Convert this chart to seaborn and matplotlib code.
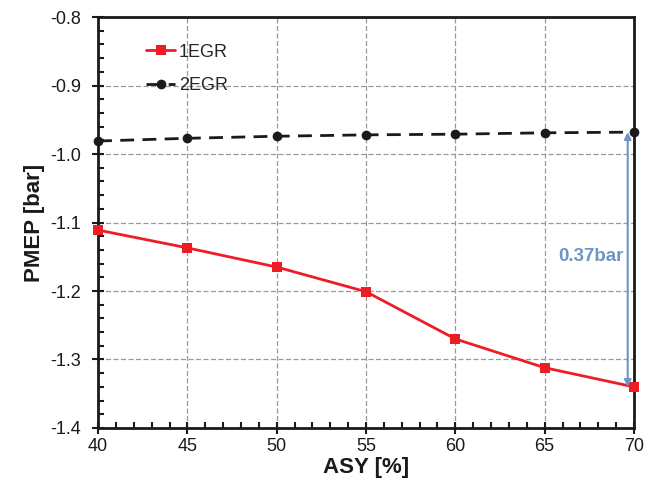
import matplotlib
matplotlib.use("Agg")
import matplotlib.pyplot as plt
import seaborn as sns
import pandas as pd
from matplotlib.ticker import MultipleLocator

asy = [40, 45, 50, 55, 60, 65, 70]
egr1 = [-1.111, -1.137, -1.165, -1.201, -1.270, -1.312, -1.340]
egr2 = [-0.981, -0.977, -0.974, -0.972, -0.971, -0.969, -0.968]
series_names = ["1EGR", "2EGR"]
diff_label = "0.37bar"

sns.set_style("white")
plt.rcParams['font.family'] = ['Liberation Sans', 'DejaVu Sans']

df = pd.DataFrame({
    "ASY": asy * 2,
    "PMEP": egr1 + egr2,
    "series": [series_names[0]] * len(asy) + [series_names[1]] * len(asy),
})

fig = plt.figure(figsize=(6.58, 4.88), dpi=100)
ax = fig.add_axes([0.149, 0.123, 0.8145, 0.842])

ax.grid(True, color="#999999", linestyle=(0, (4, 2)), linewidth=0.9)
ax.set_axisbelow(True)

sns.lineplot(data=df[df.series == series_names[0]], x="ASY", y="PMEP", ax=ax,
             color="#ee1c25", marker="s", markersize=7, markeredgewidth=0,
             linewidth=2, label=series_names[0], zorder=4, clip_on=False)
sns.lineplot(data=df[df.series == series_names[1]], x="ASY", y="PMEP", ax=ax,
             color="#1a1a1a", marker="o", markersize=7, markeredgewidth=0,
             linewidth=2, linestyle=(0, (5, 3)), label=series_names[1], zorder=4,
             clip_on=False)

ax.set_xlim(40, 70)
ax.set_ylim(-1.4, -0.8)
ax.xaxis.set_major_locator(MultipleLocator(5))
ax.xaxis.set_minor_locator(MultipleLocator(1))
ax.yaxis.set_major_locator(MultipleLocator(0.1))
ax.yaxis.set_minor_locator(MultipleLocator(0.02))
ax.yaxis.set_major_formatter(matplotlib.ticker.FuncFormatter(lambda v, p: f"{v:.1f}"))

for s in ax.spines.values():
    s.set_color("#1a1a1a")
    s.set_linewidth(2)

ax.tick_params(axis="both", which="both", bottom=True, left=True, top=False, right=False)
ax.tick_params(axis="both", which="major", direction="inout", length=8, width=1.5,
               labelsize=13, colors="#1a1a1a", labelcolor="#1a1a1a")
ax.tick_params(axis="both", which="minor", direction="in", length=4, width=1.5,
               colors="#1a1a1a")
ax.tick_params(axis="x", which="major", pad=3)
ax.tick_params(axis="y", which="major", pad=8)

ax.set_xlabel("ASY [%]", fontsize=16, fontweight="bold", color="#1a1a1a", labelpad=2)
ax.set_ylabel("PMEP [bar]", fontsize=16, fontweight="bold", color="#1a1a1a", labelpad=4)

xa = 69.65
ax.annotate("", xy=(xa, egr1[-1]), xytext=(xa, egr2[-1]),
            arrowprops=dict(arrowstyle="<|-|>", color="#6f95c4", lw=1.5,
                            mutation_scale=10, shrinkA=0, shrinkB=0), zorder=5)
ax.text(67.6, -1.150, diff_label, color="#6f95c4", fontsize=13.5, fontweight="bold",
        ha="center", va="center")

leg = ax.legend(loc="upper left", bbox_to_anchor=(0.06, 0.975), frameon=False,
                fontsize=13, handlelength=1.6, handletextpad=0.2, labelspacing=0.9)

fig.savefig("out.png", dpi=100)
